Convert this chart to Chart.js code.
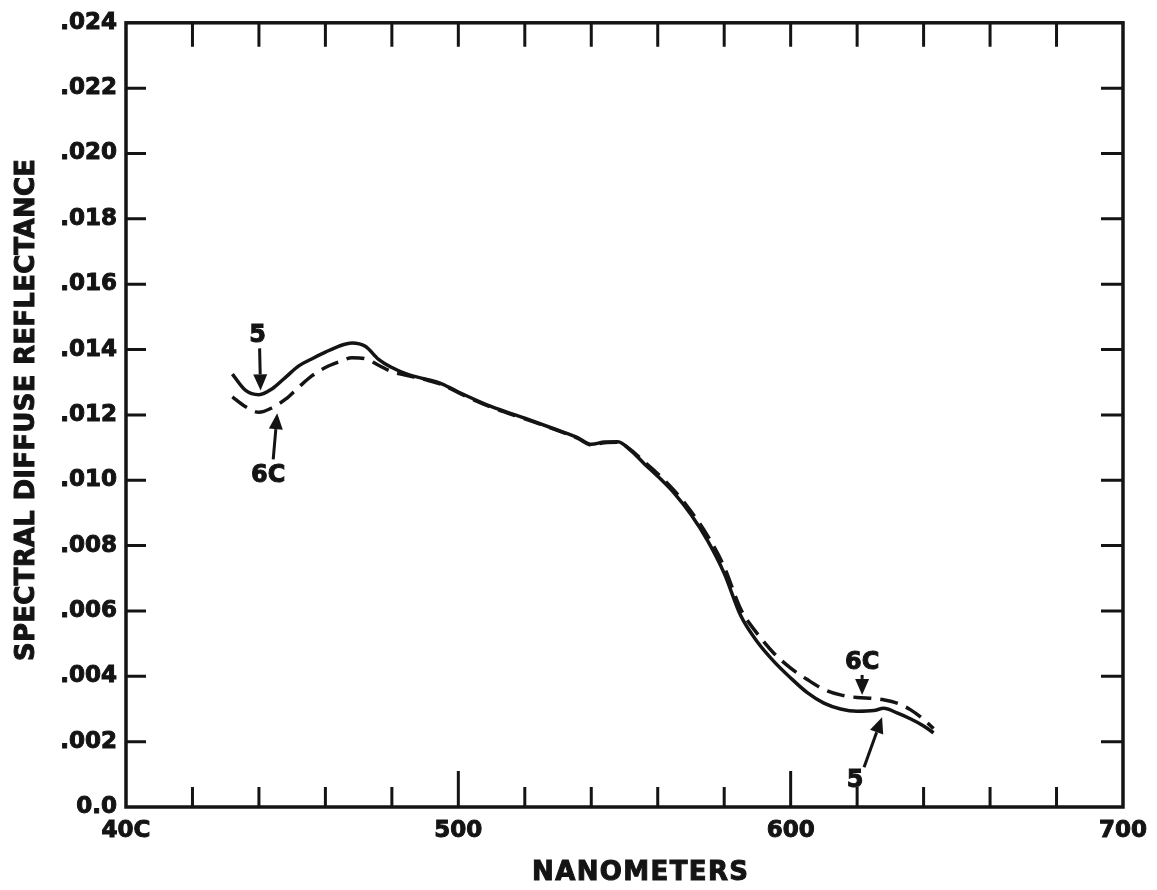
<!DOCTYPE html>
<html>
<head>
<meta charset="utf-8">
<script src="https://cdn.jsdelivr.net/npm/chart.js@4.4.1/dist/chart.umd.min.js"></script>
<style>
  html, body { margin: 0; padding: 0; background: #fff; }
  #wrap { position: relative; width: 1157px; height: 890px; }
</style>
</head>
<body>
<div id="wrap"><canvas id="chart"></canvas></div>
<script>
// wavelength samples (nm), shared by both curves
const wavelengths = [432, 436, 440, 444, 448, 452, 456, 460, 464, 468, 472, 476, 480, 485, 490, 495,
  500, 510, 520, 530, 536, 540, 544, 548, 552, 556, 560, 565, 570, 575, 580, 585, 590, 595,
  600, 605, 610, 615, 620, 625, 628, 632, 636, 640, 643];

// sample 5 (solid)
const reflect5 = [0.01325, 0.01275, 0.01262, 0.01280, 0.01315, 0.01350, 0.01372, 0.01392, 0.01410, 0.01420,
  0.01410, 0.01370, 0.01345, 0.01323, 0.01310, 0.01295, 0.01270, 0.01225, 0.01190, 0.01153, 0.01130,
  0.01110, 0.01117, 0.01118, 0.01090, 0.01050, 0.01012, 0.00960, 0.00895, 0.00815, 0.00715, 0.00585,
  0.00505, 0.00445, 0.00395, 0.00350, 0.00318, 0.00300, 0.00293, 0.00295, 0.00302, 0.00288, 0.00270,
  0.00248, 0.00227];

// sample 6C (dashed)
const reflect6C = [0.01255, 0.01225, 0.01208, 0.01222, 0.01248, 0.01285, 0.01320, 0.01345, 0.01362, 0.01375,
  0.01372, 0.01352, 0.01332, 0.01320, 0.01308, 0.01293, 0.01268, 0.01223, 0.01188, 0.01152, 0.01128,
  0.01108, 0.01115, 0.01116, 0.01092, 0.01056, 0.01020, 0.00968, 0.00905, 0.00830, 0.00735, 0.00605,
  0.00530, 0.00470, 0.00425, 0.00390, 0.00360, 0.00343, 0.00335, 0.00332, 0.00328, 0.00318, 0.00298,
  0.00268, 0.00240];

const xLabelValues = [400, 500, 600, 700];
const xLabelText = ['40C', '500', '600', '700'];
const yTickLabels = ['0.0', '.002', '.004', '.006', '.008', '.010', '.012', '.014', '.016', '.018', '.020', '.022', '.024'];

// arrow callouts: tip in data units, tail/label offsets in px from the tip
const callouts = [
  { text: '5',  x: 440.5, y: 0.01275, tail: [-1, -42], label: [-3, -55] },
  { text: '6C', x: 445.5, y: 0.01205, tail: [-4, 46],  label: [-9, 62] },
  { text: '6C', x: 621.5, y: 0.00343, tail: [0, -20],  label: [0, -32] },
  { text: '5',  x: 627.5, y: 0.00275, tail: [-18, 50], label: [-27, 64] }
];

const INK = '#141414';
const FONT = '"DejaVu Sans", "Liberation Sans", sans-serif';

function toPoints(xs, ys) {
  return xs.map((x, i) => ({ x: x, y: ys[i] }));
}

function arrow(ctx, x0, y0, x1, y1) {
  const ang = Math.atan2(y1 - y0, x1 - x0);
  const head = 16, half = 7;
  const bx = x1 - head * Math.cos(ang), by = y1 - head * Math.sin(ang);
  ctx.beginPath();
  ctx.moveTo(x0, y0);
  ctx.lineTo(bx, by);
  ctx.stroke();
  ctx.beginPath();
  ctx.moveTo(x1, y1);
  ctx.lineTo(bx + half * Math.sin(ang), by - half * Math.cos(ang));
  ctx.lineTo(bx - half * Math.sin(ang), by + half * Math.cos(ang));
  ctx.closePath();
  ctx.fill();
}

// heavy text: fill plus a thin outline
function boldText(ctx, text, x, y) {
  ctx.fillText(text, x, y);
  ctx.strokeText(text, x, y);
}

// stretch a title to a given length with letter spacing
function spacedText(ctx, text, cx, cy, width) {
  ctx.letterSpacing = '0px';
  const w = ctx.measureText(text).width;
  const sp = (width - w) / (text.length - 1);
  ctx.letterSpacing = sp + 'px';
  boldText(ctx, text, cx + sp / 2, cy);
  ctx.letterSpacing = '0px';
}

const frameAndNotes = {
  id: 'frameAndNotes',
  afterDraw(chart) {
    const { ctx, chartArea: a, scales: { x, y } } = chart;
    ctx.save();
    ctx.strokeStyle = INK;
    ctx.fillStyle = INK;

    // frame
    ctx.lineWidth = 3.5;
    ctx.strokeRect(a.left, a.top, a.right - a.left, a.bottom - a.top);

    // inward ticks on all four sides
    ctx.lineWidth = 3;
    ctx.beginPath();
    x.ticks.forEach(t => {
      if (t.value <= x.min || t.value >= x.max) return;
      const px = x.getPixelForValue(t.value);
      const major = t.value % 100 === 0;
      ctx.moveTo(px, a.bottom);
      ctx.lineTo(px, a.bottom - (major ? 36 : 20));
      ctx.moveTo(px, a.top);
      ctx.lineTo(px, a.top + 24);
    });
    y.ticks.forEach((t, i) => {
      if (i === 0 || i === y.ticks.length - 1) return;
      const py = y.getPixelForValue(t.value);
      ctx.moveTo(a.left, py);
      ctx.lineTo(a.left + 20, py);
      ctx.moveTo(a.right, py);
      ctx.lineTo(a.right - 22, py);
    });
    ctx.stroke();

    // axis titles
    ctx.lineWidth = 1;
    ctx.font = 'bold 26px ' + FONT;
    ctx.textAlign = 'center';
    ctx.textBaseline = 'middle';
    spacedText(ctx, 'NANOMETERS', 640, 873, 216);
    ctx.save();
    ctx.translate(27, 410);
    ctx.rotate(-Math.PI / 2);
    spacedText(ctx, 'SPECTRAL DIFFUSE REFLECTANCE', 0, 0, 502);
    ctx.restore();

    // callouts
    ctx.font = 'bold 24px ' + FONT;
    callouts.forEach(c => {
      const tx = x.getPixelForValue(c.x);
      const ty = y.getPixelForValue(c.y);
      ctx.lineWidth = 3;
      arrow(ctx, tx + c.tail[0], ty + c.tail[1], tx, ty);
      ctx.lineWidth = 1;
      boldText(ctx, c.text, tx + c.label[0], ty + c.label[1]);
    });
    ctx.restore();
  }
};

const tickFont = { family: FONT, size: 23, weight: 'bold' };

new Chart(document.getElementById('chart'), {
  type: 'line',
  data: {
    datasets: [
      {
        label: '5',
        data: toPoints(wavelengths, reflect5),
        borderColor: INK,
        borderWidth: 3.5,
        pointRadius: 0,
        fill: false,
        cubicInterpolationMode: 'monotone'
      },
      {
        label: '6C',
        data: toPoints(wavelengths, reflect6C),
        borderColor: INK,
        borderWidth: 3.5,
        borderDash: [18, 9],
        pointRadius: 0,
        fill: false,
        cubicInterpolationMode: 'monotone'
      }
    ]
  },
  options: {
    responsive: true,
    maintainAspectRatio: false,
    animation: false,
    layout: { padding: { top: 18, right: 34, left: 0, bottom: 0 } },
    plugins: { legend: { display: false }, tooltip: { enabled: false } },
    scales: {
      x: {
        type: 'linear',
        min: 400,
        max: 700,
        afterFit: s => { s.height = 83; },
        grid: { display: false, drawTicks: false },
        border: { display: false },
        ticks: {
          stepSize: 20,
          autoSkip: false,
          maxRotation: 0,
          padding: 10,
          color: INK,
          textStrokeColor: INK,
          textStrokeWidth: 1,
          font: tickFont,
          callback: v => {
            const k = xLabelValues.indexOf(v);
            return k >= 0 ? xLabelText[k] : '';
          }
        }
      },
      y: {
        type: 'linear',
        min: 0,
        max: 0.024,
        afterFit: s => { s.width = 126; },
        grid: { display: false, drawTicks: false },
        border: { display: false },
        ticks: {
          stepSize: 0.002,
          autoSkip: false,
          padding: 9,
          color: INK,
          textStrokeColor: INK,
          textStrokeWidth: 1,
          font: tickFont,
          callback: (v, i) => yTickLabels[i]
        }
      }
    }
  },
  plugins: [frameAndNotes]
});
</script>
</body>
</html>
